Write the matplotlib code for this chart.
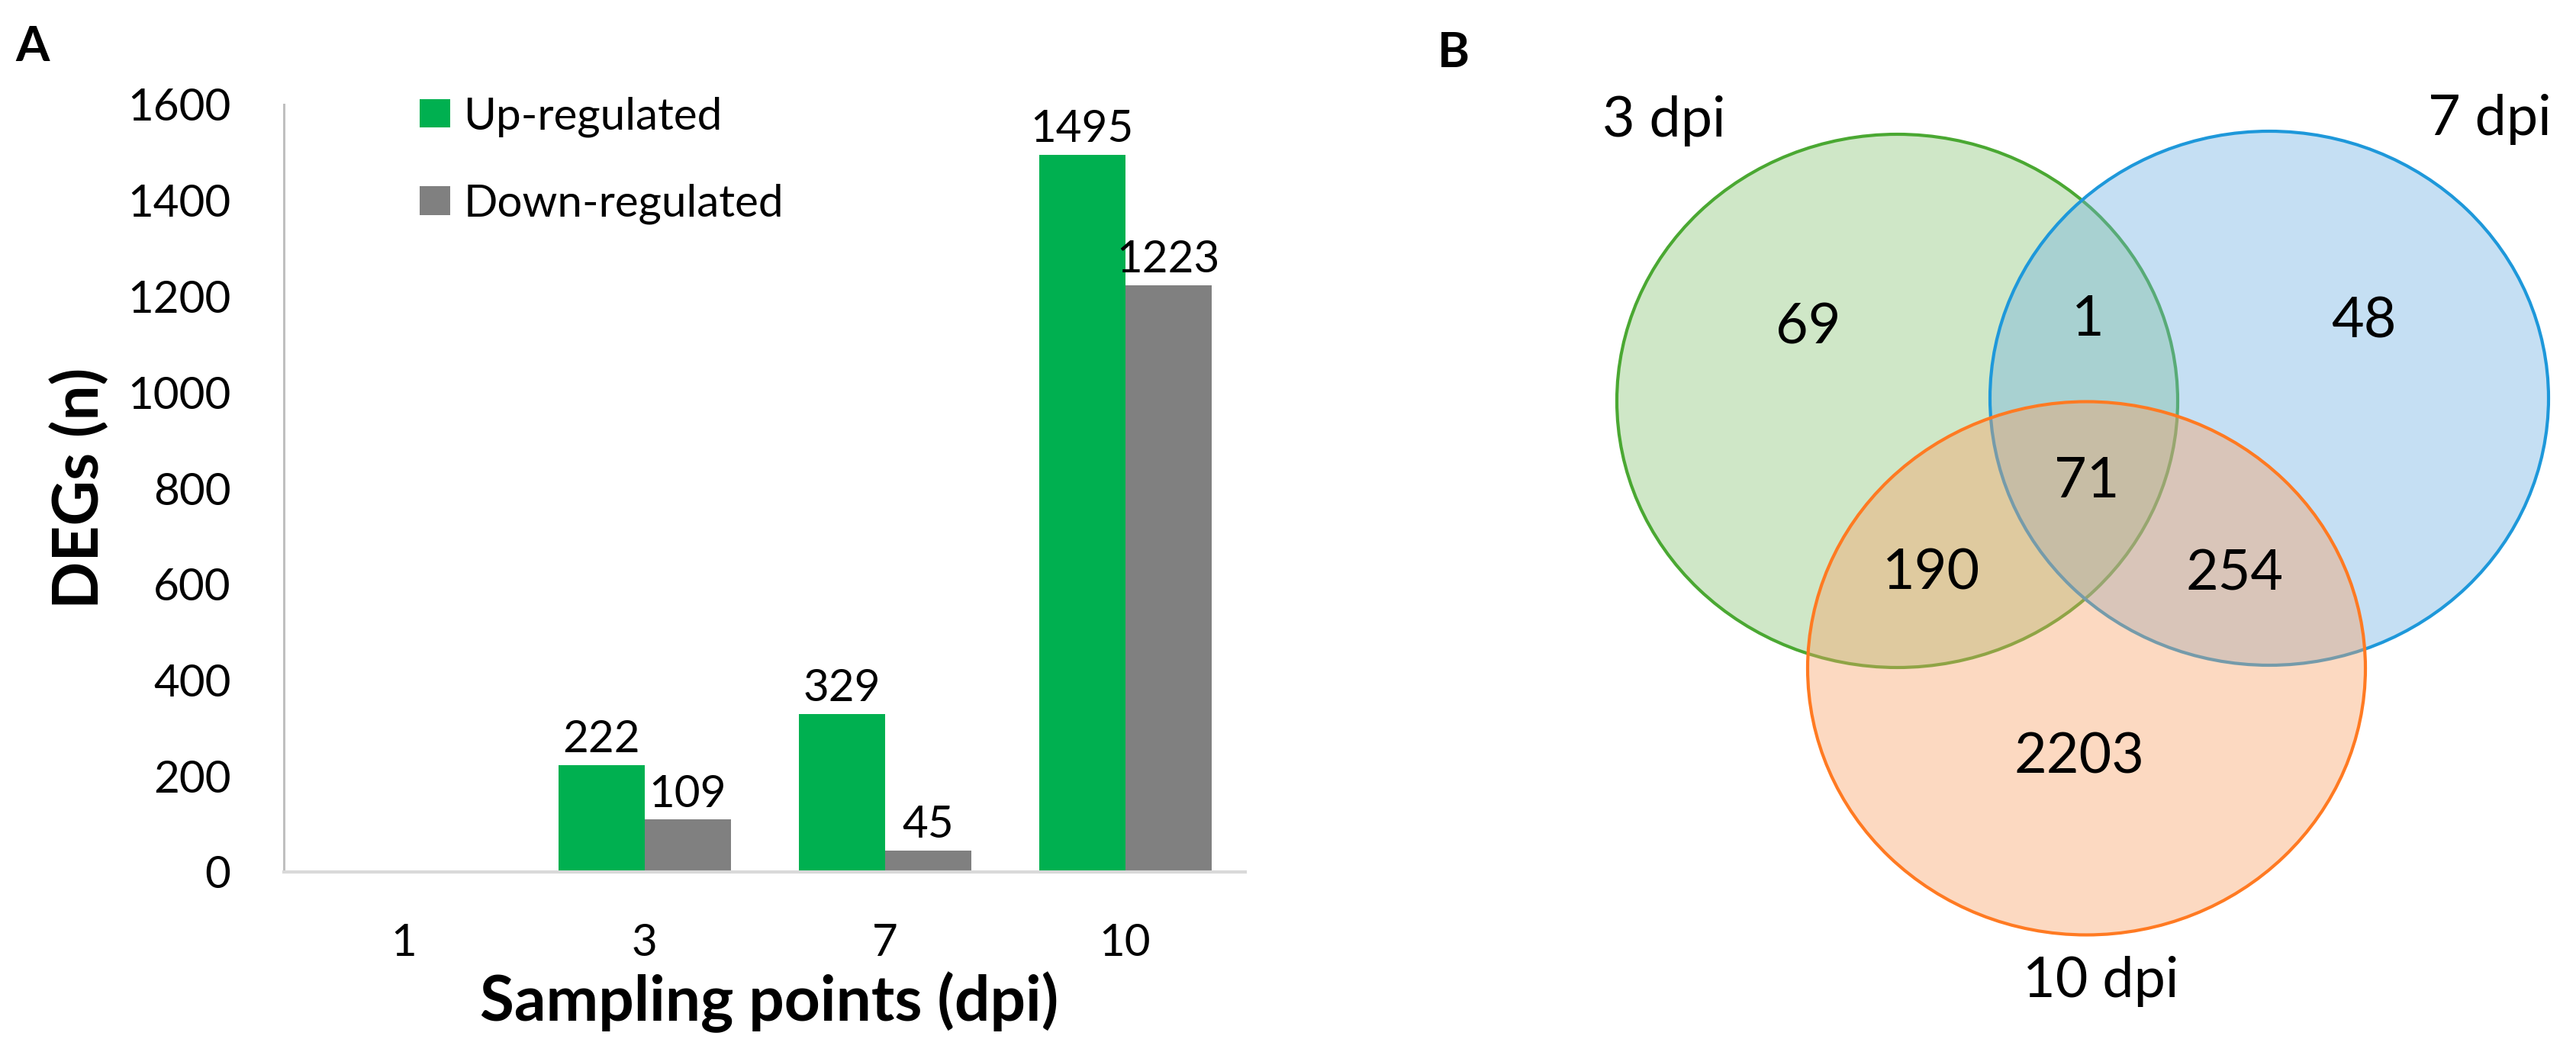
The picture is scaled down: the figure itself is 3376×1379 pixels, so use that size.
import matplotlib
matplotlib.use("Agg")
import matplotlib.pyplot as plt
from matplotlib.patches import Patch, Ellipse

# ---------------- data ----------------
categories = ["1", "3", "7", "10"]
up_regulated = [0, 222, 329, 1495]
down_regulated = [0, 109, 45, 1223]
series_names = ["Up-regulated", "Down-regulated"]
y_ticks = [0, 200, 400, 600, 800, 1000, 1200, 1400, 1600]

venn_sets = ["3 dpi", "7 dpi", "10 dpi"]
venn_regions = ["3 only", "3&7", "7 only", "3&7&10", "3&10", "7&10", "10 only"]
venn_counts = [69, 1, 48, 71, 190, 254, 2203]

# ---------------- layout / style ----------------
W, H = 3376, 1379
DPI = 100
FONT = ["Lato", "DejaVu Sans"]
plt.rcParams["font.family"] = FONT

GREEN = "#00B050"
GRAY = "#808080"
TICK_FS = 42
TITLE_FS = 59

fig = plt.figure(figsize=(W / DPI, H / DPI), dpi=DPI)
fig.patch.set_facecolor("white")

def fx(px):
    return px / W

def fy(py):
    return 1 - py / H

# ---------- Panel A: bar chart ----------
ax_left, ax_right, ax_top, ax_bot = 372, 1632, 137, 1143
ax = fig.add_axes([fx(ax_left), fy(ax_bot), (ax_right - ax_left) / W, (ax_bot - ax_top) / H])
n = len(categories)
xs = list(range(n))
bw = 113 / 315
b1 = ax.bar([x - bw / 2 for x in xs], up_regulated, width=bw, color=GREEN, label=series_names[0])
b2 = ax.bar([x + bw / 2 for x in xs], down_regulated, width=bw, color=GRAY, label=series_names[1])
for bars, vals in ((b1, up_regulated), (b2, down_regulated)):
    ax.bar_label(bars, labels=[str(v) if v > 0 else "" for v in vals],
                 padding=5, fontsize=TICK_FS, color="black")

ax.set_xlim(-0.5, n - 0.5)
ax.set_ylim(0, 1600)
ax.set_yticks(y_ticks)
ax.set_yticklabels([str(t) for t in y_ticks])
ax.set_xticks(xs)
ax.set_xticklabels(categories)
ax.tick_params(axis="y", length=0, pad=50, labelsize=TICK_FS)
ax.tick_params(axis="x", length=0, pad=48, labelsize=TICK_FS)
for s in ("top", "right"):
    ax.spines[s].set_visible(False)
ax.spines["left"].set_color("#BFBFBF")
ax.spines["left"].set_linewidth(2.2)
ax.spines["bottom"].set_color("#D9D9D9")
ax.spines["bottom"].set_linewidth(3.0)

ax.set_xlabel("Sampling points (dpi)", fontsize=TITLE_FS, fontweight="bold", va="center")
ax.xaxis.set_label_coords((1008 - ax_left) / (ax_right - ax_left), (ax_bot - 1314) / (ax_bot - ax_top))
ax.set_ylabel("DEGs (n)", fontsize=TITLE_FS, fontweight="bold", va="center")
ax.yaxis.set_label_coords((104 - ax_left) / (ax_right - ax_left), (ax_bot - 640) / (ax_bot - ax_top))

handles = [Patch(facecolor=GREEN, edgecolor="none"), Patch(facecolor=GRAY, edgecolor="none")]
ax.legend(handles, series_names, loc="upper left",
          bbox_to_anchor=(fx(550), fy(126)), bbox_transform=fig.transFigure,
          frameon=False, fontsize=TICK_FS, handlelength=0.68, handleheight=0.62,
          handletextpad=0.3, labelspacing=1.05, borderpad=0, borderaxespad=0)

fig.text(fx(43), fy(62), "A", fontsize=46, fontweight="bold", ha="center", va="center")

# ---------- Panel B: Venn diagram ----------
axv = fig.add_axes([fx(1700), 0, (W - 1700) / W, 1])
axv.set_xlim(1700, W)
axv.set_ylim(H, 0)
axv.axis("off")

circle_geom = [((2486.5, 525.5), 735, 699), ((2974, 522), 732, 700), ((2734.5, 876), 731, 699)]
face_cols = [(135/255, 197/255, 115/255, 0.4), (110/255, 177/255, 225/255, 0.4), (248/255, 160/255, 100/255, 0.4)]
edge_cols = ["#4AA832", "#1E98DA", "#FF7A22"]
for (c, w, h), fc, ec in zip(circle_geom, face_cols, edge_cols):
    axv.add_patch(Ellipse(c, w, h, facecolor=fc, edgecolor="none"))
    axv.add_patch(Ellipse(c, w, h, facecolor="none", edgecolor=ec, linewidth=3.0))

# region label positions (layout)
region_pos = [(2370, 430), (2736, 420), (3098, 422), (2735, 632), (2531, 752), (2929, 753), (2725, 993)]
for (px, py), v in zip(region_pos, venn_counts):
    axv.text(px, py, str(v), fontsize=53, ha="center", va="center", color="black")

set_label_pos = [(2181, 158), (3263, 157), (2753, 1286)]
for (px, py), s in zip(set_label_pos, venn_sets):
    axv.text(px, py, s, fontsize=53, ha="center", va="center", color="black")

fig.text(fx(1905), fy(70), "B", fontsize=46, fontweight="bold", ha="center", va="center")

fig.savefig("out.png", dpi=DPI, facecolor="white")
